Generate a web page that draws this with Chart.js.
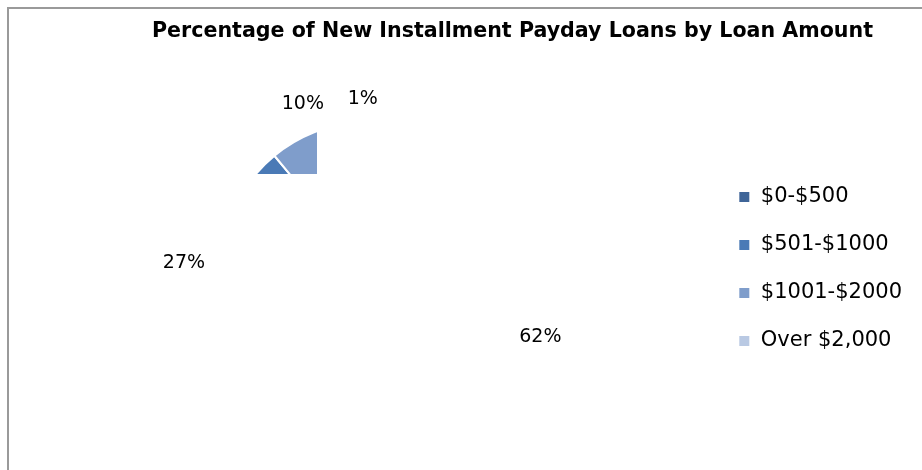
<!DOCTYPE html>
<html><head><meta charset="utf-8">
<script src="https://cdn.jsdelivr.net/npm/chart.js@4"></script>
<style>html,body{margin:0;padding:0;background:#fff}#wrap{width:922px;height:470px}</style>
</head><body><div id="wrap"><canvas id="c" width="922" height="470"></canvas></div>
<script>
const chartTitle = 'Percentage of New Installment Payday Loans by Loan Amount';
const categories = ['$0-$500', '$501-$1000', '$1001-$2000', 'Over $2,000'];
const shares = [62, 27, 10, 1];
const shareLabels = ['62%', '27%', '10%', '1%'];
const sliceColors = ['#3F6598', '#4A7AB6', '#7F9DCB', '#B9C9E3'];

const framePlugin = {
  id: 'frame',
  beforeDraw(chart) {
    const ctx = chart.ctx;
    ctx.save();
    ctx.fillStyle = '#fff';
    ctx.fillRect(0, 0, chart.width, chart.height);
    ctx.strokeStyle = '#9a9a9a';
    ctx.lineWidth = 2;
    ctx.strokeRect(8, 8, chart.width + 40, chart.height + 40);
    ctx.restore();
  }
};

const plotAreaPlugin = {
  id: 'plotArea',
  afterLayout(chart, args, opts) {
    const ca = chart.chartArea;
    ca.left = opts.left;
    ca.width = ca.right - ca.left;
  }
};

const clipPlugin = {
  id: 'clipWindow',
  beforeDatasetsDraw(chart, args, opts) {
    const ctx = chart.ctx;
    ctx.save();
    ctx.beginPath();
    ctx.rect(opts.left, opts.top, opts.right - opts.left, opts.bottom - opts.top);
    ctx.clip();
  },
  afterDatasetsDraw(chart) {
    chart.ctx.restore();
  }
};

const labelPlugin = {
  id: 'sliceLabels',
  afterDraw(chart, args, opts) {
    const ctx = chart.ctx;
    const meta = chart.getDatasetMeta(0);
    ctx.save();
    ctx.font = opts.font;
    ctx.fillStyle = opts.color;
    ctx.textAlign = 'center';
    ctx.textBaseline = 'middle';
    meta.data.forEach((arc, i) => {
      const p = arc.getProps(['x', 'y', 'startAngle', 'endAngle', 'outerRadius'], true);
      const mid = (p.startAngle + p.endAngle) / 2;
      const c = Math.cos(mid), s = Math.sin(mid);
      const text = shareLabels[i];
      const w = ctx.measureText(text).width;
      const h = opts.textHeight;
      const d = p.outerRadius + opts.gap + Math.abs(c) * w / 2 + Math.abs(s) * h / 2;
      ctx.fillText(text, p.x + c * d, p.y + s * d);
    });
    ctx.restore();
  }
};

new Chart(document.getElementById('c'), {
  type: 'pie',
  data: {
    labels: categories,
    datasets: [{
      data: shares,
      backgroundColor: sliceColors,
      borderColor: '#ffffff',
      borderWidth: 2,
      radius: 147
    }]
  },
  options: {
    responsive: false,
    animation: false,
    layout: { padding: { left: 113, right: 10, top: 8, bottom: 0 } },
    plugins: {
      title: {
        display: true,
        text: chartTitle,
        color: '#000',
        font: { family: 'DejaVu Sans', size: 20.6, weight: 'bold', lineHeight: 1.2 },
        padding: { top: 11, bottom: 24.3 }
      },
      legend: {
        position: 'right',
        fullSize: false,
        align: 'center',
        labels: {
          boxWidth: 12,
          boxHeight: 12,
          padding: 27,
          color: '#000',
          font: { family: 'DejaVu Sans', size: 21 }
        }
      },
      tooltip: { enabled: false },
      plotArea: { left: 25 },
      clipWindow: { left: 200, top: 100, right: 317, bottom: 174 },
      sliceLabels: { font: '19px "DejaVu Sans"', color: '#000', gap: 16, textHeight: 14 }
    }
  },
  plugins: [framePlugin, plotAreaPlugin, clipPlugin, labelPlugin]
});
</script>
</body></html>
